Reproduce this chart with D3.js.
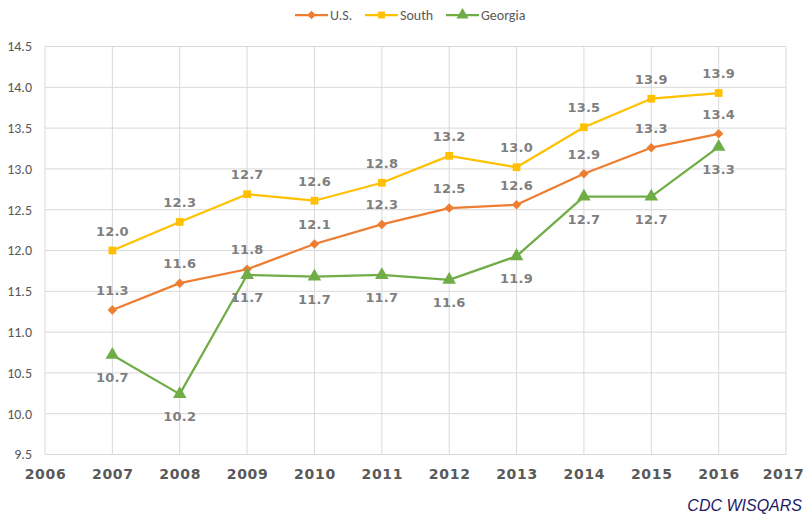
<!DOCTYPE html>
<html>
<head>
<meta charset="utf-8">
<script src="https://cdn.jsdelivr.net/npm/d3@7"></script>
<style>
body{margin:0;background:#fff;}
svg{display:block;font-family:Calibri,Carlito,"Liberation Sans",Arial,sans-serif;}
</style>
</head>
<body>
<script>
const years=[2007,2008,2009,2010,2011,2012,2013,2014,2015,2016]
const usValues=[11.27,11.6,11.77,12.08,12.32,12.52,12.56,12.94,13.26,13.43]
const southValues=[12.0,12.35,12.69,12.61,12.83,13.16,13.02,13.51,13.86,13.93]
const georgiaValues=[10.72,10.24,11.70,11.68,11.70,11.64,11.93,12.66,12.66,13.27]
const seriesNames=["U.S.","South","Georgia"]
const yTicks=[9.5,10,10.5,11,11.5,12,12.5,13,13.5,14,14.5]
const xTicks=[2006,2007,2008,2009,2010,2011,2012,2013,2014,2015,2016,2017]

const width=804,height=519,
padLeft=45,padRight=786,padTop=46.5,padBottom=454.5,
colors=["#ED7D31","#FFC000","#70AD47"],
symbols=[d3.symbolSquare,d3.symbolSquare,d3.symbolTriangle],
symSizes=[45,60,80],
symRotate=[45,0,0],
labelDy=[-15,-15,27];

const series=[usValues,southValues,georgiaValues].map((vals,i)=>({
  name:seriesNames[i],
  points:years.map((y,j)=>({year:y,value:vals[j]}))
}));

const x=d3.scaleLinear().domain([2006,2017]).range([padLeft,padRight]);
const y=d3.scaleLinear().domain([9.5,14.5]).range([padBottom,padTop]);

const svg=d3.select("body").append("svg")
  .attr("width",width).attr("height",height);

// grid
svg.append("g").selectAll("line").data(yTicks).enter().append("line")
  .attr("x1",padLeft).attr("x2",padRight)
  .attr("y1",d=>y(d)).attr("y2",d=>y(d))
  .attr("stroke","#d9d9d9").attr("stroke-width",1);
svg.append("g").selectAll("line").data(xTicks).enter().append("line")
  .attr("x1",d=>x(d)).attr("x2",d=>x(d))
  .attr("y1",padTop).attr("y2",padBottom)
  .attr("stroke","#d9d9d9").attr("stroke-width",1);

// y axis labels
const yAxis=d3.axisLeft(y).tickValues(yTicks).tickFormat(d3.format(".1f")).tickSize(0).tickPadding(13);
const gy=svg.append("g").attr("transform",`translate(${padLeft},0)`).call(yAxis);
gy.select(".domain").remove();
gy.selectAll("text").attr("fill","#595959").style("font-size","14px")
  .style("font-family","Calibri,Carlito,'Liberation Sans',Arial,sans-serif");

// x axis labels
const xAxis=d3.axisBottom(x).tickValues(xTicks).tickFormat(d3.format("d")).tickSize(0).tickPadding(12);
const gx=svg.append("g").attr("transform",`translate(0,${padBottom})`).call(xAxis);
gx.select(".domain").remove();
gx.selectAll("text").attr("fill","#595959").style("font-size","14px").style("font-weight","bold")
  .style("letter-spacing","0.7px")
  .style("font-family","'DejaVu Sans',Calibri,Carlito,Arial,sans-serif")
  .attr("dy","0.9em")
  .attr("dx",d=>d==2017?-3:0);

const line=d3.line().x(d=>x(d.year)).y(d=>y(d.value));

series.forEach((s,i)=>{
  const g=svg.append("g");
  g.append("path").datum(s.points).attr("d",line)
    .attr("fill","none").attr("stroke",colors[i]).attr("stroke-width",2.25)
    .attr("stroke-linejoin","round");
  g.selectAll("path.m").data(s.points).enter().append("path").attr("class","m")
    .attr("d",d3.symbol().type(symbols[i]).size(symSizes[i]))
    .attr("transform",d=>`translate(${x(d.year)},${y(d.value)}) rotate(${symRotate[i]})`)
    .attr("fill",colors[i]);
  g.selectAll("text").data(s.points).enter().append("text")
    .attr("x",d=>x(d.year)).attr("y",d=>y(d.value)+labelDy[i])
    .attr("text-anchor","middle")
    .attr("fill","#7f7f7f").style("font-size","13px").style("font-weight","bold")
    .style("letter-spacing","0.2px")
    .style("font-family","'DejaVu Sans',Calibri,Carlito,Arial,sans-serif")
    .text(d=>d3.format(".1f")(d.value));
});

// legend
const legendX=[295,365,446];
const legend=svg.append("g").selectAll("g").data(seriesNames).enter().append("g")
  .attr("transform",(d,i)=>`translate(${legendX[i]},15)`);
legend.append("line").attr("x1",0).attr("x2",33).attr("y1",0).attr("y2",0)
  .attr("stroke",(d,i)=>colors[i]).attr("stroke-width",2.25);
legend.append("path")
  .attr("d",(d,i)=>d3.symbol().type(symbols[i]).size(symSizes[i]*0.8)())
  .attr("transform",(d,i)=>`translate(16.5,0) rotate(${symRotate[i]})`)
  .attr("fill",(d,i)=>colors[i]);
legend.append("text").attr("x",35).attr("y",0).attr("dy","0.35em")
  .attr("fill","#595959").style("font-size","14px")
  .text(d=>d);

svg.append("text").attr("x",802).attr("y",511).attr("text-anchor","end")
  .attr("fill","#1f1a66").style("font-size","16px").style("font-style","italic")
  .style("font-family","'Liberation Sans',Arial,sans-serif")
  .text("CDC WISQARS");
</script>
</body>
</html>
